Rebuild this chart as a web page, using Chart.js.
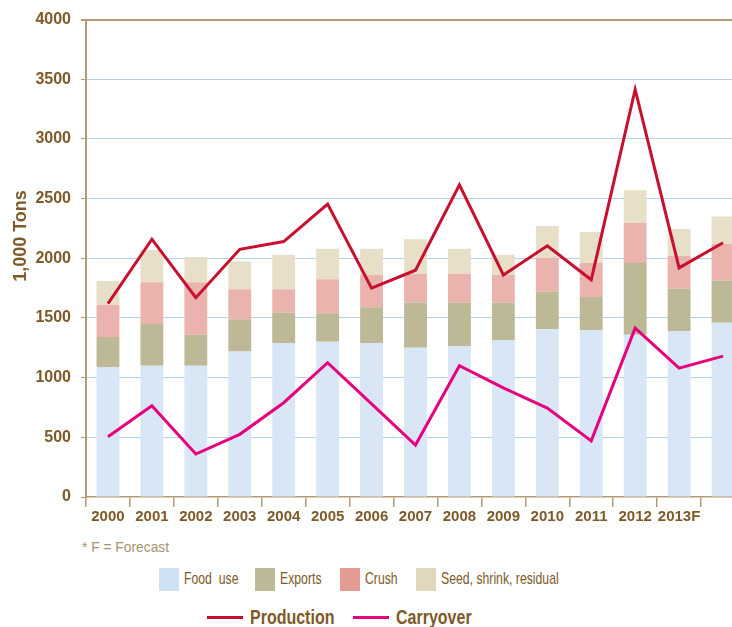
<!DOCTYPE html>
<html>
<head>
<meta charset="utf-8">
<script src="https://cdn.jsdelivr.net/npm/chart.js@4.4.0/dist/chart.umd.min.js"></script>
<style>
  html, body { margin: 0; padding: 0; background: #fff; overflow: hidden; }
  body { width: 732px; height: 627px; position: relative; font-family: 'Liberation Sans', sans-serif; }
  #area { position: absolute; left: 0; top: 0; width: 760px; height: 530px; }
  .estreito { display: inline-block; transform-origin: left center; white-space: nowrap; }
  .nota { position: absolute; left: 82px; top: 538px; font-size: 15px; color: #a8926e; }
  .nota .estreito { transform: scaleX(0.92); }
  .item { position: absolute; display: flex; align-items: center; white-space: nowrap; color: #7d5a28; }
  .barra { top: 567px; height: 24px; font-size: 17px; }
  .barra .caixa { width: 20px; height: 23px; margin-right: 5px; flex: none; }
  .barra .estreito { transform: scaleX(0.72); }
  .serie { top: 605px; height: 24px; font-size: 20px; font-weight: bold; }
  .serie .traco { width: 36px; height: 3px; margin-right: 7px; flex: none; }
  .serie .estreito { transform: scaleX(0.8); }
</style>
</head>
<body>
<div id="area"><canvas id="grafico" width="760" height="530"></canvas></div>
<div class="nota"><span class="estreito">* F = Forecast</span></div>
<script>
// categorias do eixo x (a última barra não tem rótulo no original)
const anos = ['2000', '2001', '2002', '2003', '2004', '2005', '2006', '2007', '2008', '2009', '2010', '2011', '2012', '2013F', '']

// séries das barras empilhadas (1.000 toneladas)
const usoAlimentar = [1090, 1100, 1100, 1220, 1290, 1300, 1290, 1250, 1265, 1315, 1405, 1400, 1360, 1390, 1460]
const exportacoes = [250, 350, 260, 270, 255, 240, 300, 380, 365, 315, 315, 275, 600, 355, 355]
const esmagamento = [270, 350, 440, 250, 195, 285, 270, 240, 240, 230, 285, 285, 335, 275, 305]
const sementes = [200, 270, 210, 235, 290, 255, 220, 290, 210, 170, 265, 260, 275, 225, 230]

// séries das linhas
const producao = [1620, 2160, 1670, 2075, 2140, 2455, 1750, 1900, 2615, 1860, 2105, 1820, 3415, 1920, 2130]
const estoqueFinal = [505, 765, 360, 525, 790, 1125, 780, 435, 1100, 915, 745, 470, 1415, 1080, 1180]

// marcas do eixo y
const marcasY = [0, 500, 1000, 1500, 2000, 2500, 3000, 3500, 4000]

// nomes e cores
const nomesBarras = ['Food  use', 'Exports', 'Crush', 'Seed, shrink, residual']
const coresBarras = ['#d9e6f6', '#bdb896', '#eab3ad', '#e7dfc8']
const coresLegenda = ['#cfe1f5', '#bdb896', '#e39b93', '#e0d7bc']
const nomesLinhas = ['Production', 'Carryover']
const coresLinhas = ['#c8102e', '#e6007e']

// posição horizontal de cada item da legenda
const xLegendaBarras = [159, 255, 340, 416]
const xLegendaLinhas = [207, 353]

const marrom = '#7d5a28'
const bege = '#b49b78'
const azulGrade = '#b3d3ec'

// título do eixo y desenhado à mão para ficar na altura do original
const tituloEixo = {
  id: 'tituloEixo',
  afterDraw(chart) {
    const c = chart.ctx
    c.save()
    c.translate(21, 236)
    c.rotate(-Math.PI / 2)
    c.font = "bold 18px 'Liberation Sans', sans-serif"
    c.fillStyle = marrom
    c.textAlign = 'center'
    c.textBaseline = 'middle'
    c.fillText('1,000 Tons', 0, 0)
    c.restore()
  },
}

const seriesBarras = [usoAlimentar, exportacoes, esmagamento, sementes]
const seriesLinhas = [producao, estoqueFinal]

const conjuntos = []
seriesLinhas.forEach((dados, i) => {
  conjuntos.push({
    type: 'line',
    label: nomesLinhas[i],
    data: dados,
    borderColor: coresLinhas[i],
    borderWidth: 3,
    pointRadius: 0,
    tension: 0,
    fill: false,
    stack: 'linha' + i,
    order: 0,
  })
})
seriesBarras.forEach((dados, i) => {
  conjuntos.push({
    type: 'bar',
    label: nomesBarras[i],
    data: dados,
    backgroundColor: coresBarras[i],
    borderWidth: 0,
    stack: 'barras',
    order: 1,
    categoryPercentage: 1,
    barPercentage: 0.52,
  })
})

new Chart(document.getElementById('grafico').getContext('2d'), {
  type: 'bar',
  data: { labels: anos, datasets: conjuntos },
  options: {
    responsive: false,
    animation: false,
    layout: { padding: { left: 10, right: 15, top: 14, bottom: 0 } },
    plugins: { legend: { display: false }, tooltip: { enabled: false } },
    scales: {
      x: {
        stacked: true,
        offset: true,
        afterFit: s => { s.height = 33 },
        grid: { offset: true, drawOnChartArea: false, color: bege, tickColor: bege, tickLength: 10, lineWidth: 1.5 },
        border: { color: bege, width: 1.5 },
        ticks: { color: marrom, font: { family: "'Liberation Sans', sans-serif", size: 15, weight: 'bold' }, padding: 1, maxRotation: 0, autoSkip: false },
      },
      y: {
        stacked: true,
        min: marcasY[0],
        max: marcasY[marcasY.length - 1],
        afterFit: s => { s.width = 76 },
        afterBuildTicks: s => { s.ticks = marcasY.map(v => ({ value: v })) },
        grid: {
          color: ctx => ctx.tick.value === 4000 ? bege : (ctx.tick.value === 0 ? 'rgba(0,0,0,0)' : azulGrade),
          tickColor: bege,
          tickLength: 5,
          lineWidth: ctx => ctx.tick.value === 4000 ? 2 : 1,
        },
        border: { color: bege, width: 2 },
        ticks: {
          color: marrom,
          font: { family: "'Liberation Sans', sans-serif", size: 16, weight: 'bold' },
          padding: 10,
          callback: v => String(v), // sem separador de milhar
        },
      },
    },
  },
  plugins: [tituloEixo],
})

// legendas em html
nomesBarras.forEach((nome, i) => {
  const item = document.createElement('div')
  item.className = 'item barra'
  item.style.left = xLegendaBarras[i] + 'px'
  item.innerHTML = `<div class="caixa" style="background:${coresLegenda[i]}"></div><span class="estreito">${nome.replace('  ', '&nbsp; ')}</span>`
  document.body.appendChild(item)
})
nomesLinhas.forEach((nome, i) => {
  const item = document.createElement('div')
  item.className = 'item serie'
  item.style.left = xLegendaLinhas[i] + 'px'
  item.innerHTML = `<div class="traco" style="background:${coresLinhas[i]}"></div><span class="estreito">${nome}</span>`
  document.body.appendChild(item)
})
</script>
</body>
</html>
